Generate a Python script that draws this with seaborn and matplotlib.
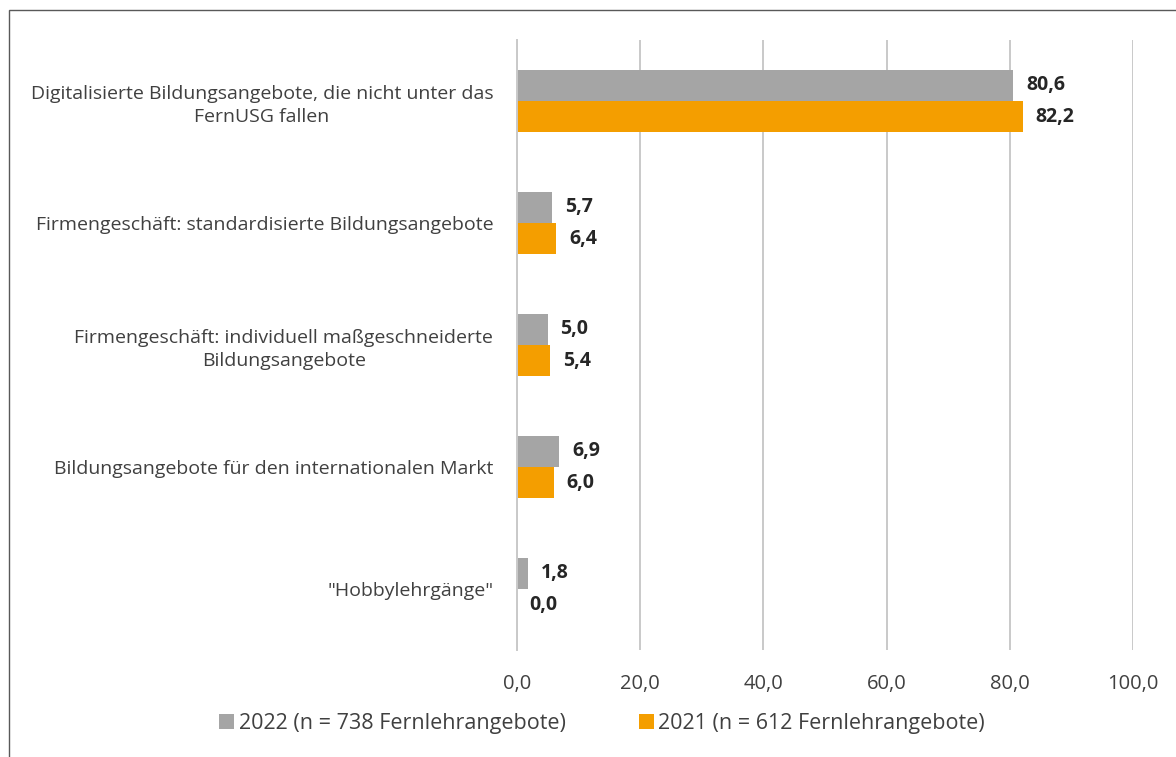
import pandas as pd
import seaborn as sns
import matplotlib.pyplot as plt
from matplotlib.patches import Rectangle

# categories and values (percent)
categories = [
    "Digitalisierte Bildungsangebote, die nicht unter das\nFernUSG fallen",
    "Firmengeschäft: standardisierte Bildungsangebote",
    "Firmengeschäft: individuell maßgeschneiderte\nBildungsangebote",
    "Bildungsangebote für den internationalen Markt",
    "\"Hobbylehrgänge\"",
]
values_2022 = [80.6, 5.7, 5.0, 6.9, 1.8]
values_2021 = [82.2, 6.4, 5.4, 6.0, 0.0]
series = ["2022 (n = 738 Fernlehrangebote)", "2021 (n = 612 Fernlehrangebote)"]
x_ticks = [0, 20, 40, 60, 80, 100]

df = pd.DataFrame({
    "Kategorie": categories * 2,
    "Wert": values_2022 + values_2021,
    "Jahr": [series[0]] * len(categories) + [series[1]] * len(categories),
})

sns.set_style("white")
plt.rcParams['font.family'] = ['Open Sans', 'DejaVu Sans']

text_col = "#404040"
fig = plt.figure(figsize=(11.76, 7.57), dpi=100)
ax = fig.add_axes([0.4396, 0.1413, 0.5238, 0.8059])

sns.barplot(data=df, y="Kategorie", x="Wert", hue="Jahr", orient="h",
            palette=["#a5a5a5", "#f49e00"], width=0.51, saturation=1,
            linewidth=0, ax=ax, legend=True)

for cont in ax.containers:
    ax.bar_label(cont, labels=[f"{v:.1f}".replace(".", ",") for v in cont.datavalues],
                 padding=9, fontsize=14, fontweight="bold", color="#262626")

ax.set_xlim(0, 100)
ax.set_ylim(4.5, -0.5)
ax.set_xticks(x_ticks)
ax.set_xticklabels([f"{t:.1f}".replace(".", ",") for t in x_ticks])
ax.set_yticks(range(len(categories)))
ax.set_yticklabels(categories, multialignment="center", linespacing=1.35)
ax.xaxis.grid(True, color="#c9c9c9", linewidth=1.4)
ax.set_axisbelow(True)
for s in ["top", "right", "bottom"]:
    ax.spines[s].set_visible(False)
ax.spines["left"].set_color("#c9c9c9")
ax.spines["left"].set_linewidth(1.4)
ax.tick_params(axis="x", length=0, pad=17, labelsize=14.5, labelcolor=text_col)
ax.tick_params(axis="y", length=0, pad=17, labelsize=14, labelcolor=text_col)
ax.set_xlabel("")
ax.set_ylabel("")

handles, labels = ax.get_legend_handles_labels()
ax.get_legend().remove()
fig.legend(handles, labels, loc="center", bbox_to_anchor=(0.512, 0.044),
           ncol=2, frameon=False, fontsize=15.5, labelcolor=text_col,
           handlelength=0.7, handleheight=0.7, handletextpad=0.2, columnspacing=3.4)

# outer frame of the chart area
fig.patches.append(Rectangle((9 / 1176, -0.1), 1.2, 1 - 10 / 757 + 0.1,
                             transform=fig.transFigure, fill=False,
                             edgecolor="#595959", linewidth=1.0))

fig.savefig("out.png", dpi=100)
